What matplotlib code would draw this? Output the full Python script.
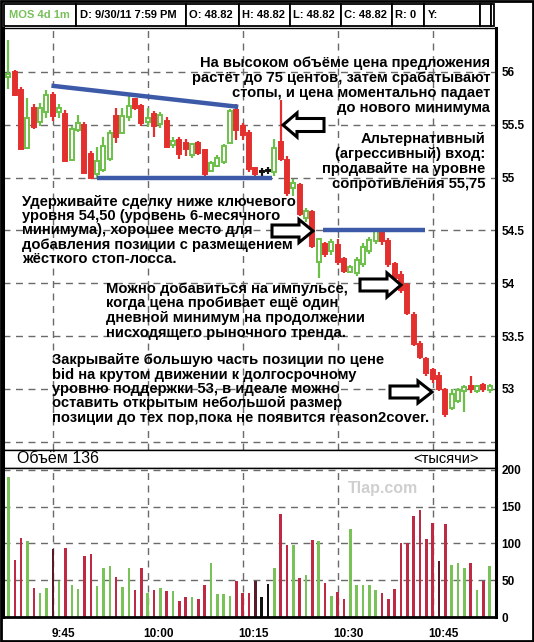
import numpy as np
import matplotlib.pyplot as plt
from matplotlib.patches import Rectangle, Polygon
import matplotlib.transforms as mtrans

plt.rcParams['font.family'] = ['Liberation Sans', 'DejaVu Sans']

# ---- data ----
start_time = "9:38"
opens = [55.95, 56.00, 55.83, 55.28, 55.66, 55.53, 55.62, 55.78, 55.62, 55.60,
         55.17, 55.45, 55.50, 55.22, 55.03, 55.07, 55.18, 55.58, 55.42, 55.57,
         55.74, 55.68, 55.53, 55.60, 55.51, 55.54, 55.31, 55.36, 55.33, 55.21,
         55.33, 55.26, 55.06, 55.11, 55.15, 55.33, 55.64, 55.49, 55.42, 55.09,
         55.05, 55.06, 55.05, 55.34, 55.17, 54.90, 54.93, 54.62, 54.67, 54.20,
         54.37, 54.31, 54.36, 54.23, 54.11, 54.10, 54.18, 54.31, 54.40, 54.49,
         54.40, 54.18, 54.08, 53.98, 53.70, 53.43, 53.28, 53.18, 53.12, 52.99,
         52.82, 52.89, 52.98, 53.03, 52.98, 53.04, 52.99]
highs = [56.30, 56.02, 55.86, 55.75, 55.70, 55.71, 55.83, 55.81, 55.70, 55.64,
         55.49, 55.59, 55.53, 55.25, 55.29, 55.38, 55.45, 55.66, 55.66, 55.77,
         55.75, 55.70, 55.66, 55.63, 55.62, 55.57, 55.38, 55.38, 55.37, 55.33,
         55.35, 55.27, 55.16, 55.21, 55.32, 55.65, 55.70, 55.52, 55.45, 55.10,
         55.09, 55.10, 55.37, 55.73, 55.20, 54.99, 54.95, 54.71, 54.69, 54.43,
         54.39, 54.42, 54.42, 54.25, 54.17, 54.25, 54.38, 54.44, 54.52, 54.51,
         54.43, 54.20, 54.12, 54.00, 53.73, 53.45, 53.30, 53.20, 53.16, 53.01,
         53.00, 53.01, 53.04, 53.12, 53.04, 53.06, 53.05]
lows = [55.84, 55.77, 55.26, 55.27, 55.46, 55.49, 55.56, 55.54, 55.56, 55.16,
        55.16, 55.43, 55.04, 54.99, 55.00, 55.05, 55.16, 55.33, 55.42, 55.54,
        55.64, 55.49, 55.48, 55.38, 55.47, 55.28, 55.28, 55.18, 55.20, 55.19,
        55.21, 55.02, 55.05, 55.10, 55.13, 55.33, 55.36, 55.36, 55.05, 55.00,
        55.02, 55.03, 55.02, 55.16, 54.83, 54.83, 54.64, 54.58, 54.33, 54.05,
        54.25, 54.27, 54.17, 54.10, 54.10, 54.07, 54.15, 54.28, 54.37, 54.36,
        54.15, 54.02, 53.91, 53.70, 53.41, 53.28, 53.12, 53.06, 52.98, 52.73,
        52.80, 52.87, 52.78, 52.96, 52.96, 52.97, 52.96]
closes = [55.98, 55.78, 55.27, 55.56, 55.48, 55.66, 55.78, 55.58, 55.66, 55.16,
          55.46, 55.52, 55.04, 55.00, 55.16, 55.30, 55.42, 55.38, 55.58, 55.68,
          55.66, 55.52, 55.56, 55.49, 55.59, 55.29, 55.35, 55.22, 55.27, 55.32,
          55.23, 55.03, 55.14, 55.19, 55.30, 55.63, 55.45, 55.40, 55.08, 55.03,
          55.05, 55.06, 55.28, 55.18, 54.85, 54.95, 54.66, 54.68, 54.35, 54.42,
          54.28, 54.39, 54.20, 54.12, 54.15, 54.22, 54.34, 54.41, 54.50, 54.40,
          54.18, 54.05, 53.94, 53.72, 53.43, 53.30, 53.15, 53.09, 53.00, 52.76,
          52.95, 52.99, 53.02, 53.00, 53.03, 53.00, 53.03]
volume = [190, 77, 107, 103, 40, 32, 40, 92, 49, 94,
          44, 38, 83, 86, 42, 66, 69, 55, 41, 67,
          37, 67, 32, 37, 39, 35, 35, 22, 27, 27,
          25, 43, 73, 31, 31, 29, 49, 33, 33, 49,
          27, 45, 67, 140, 98, 98, 53, 57, 105, 103,
          46, 28, 34, 25, 120, 43, 43, 43, 37, 33,
          25, 38, 101, 101, 138, 146, 106, 128, 76, 127,
          71, 73, 67, 73, 37, 49, 70]
vol_kind = list("grrgrggdgr" "ggrrgggrgg" "rrgrgrgrrg" "rrggggrrrd"
                "kkgrrgrgrg" "rgrrgggggr" "rrrrrrrrdr" "gggrgrg")
time_ticks = ["9:45", "10:00", "10:15", "10:30", "10:45"]
price_ticks = [53, 53.5, 54, 54.5, 55, 55.5, 56]
vol_ticks = [0, 50, 100, 150, 200]
# trend lines (bar index, price)
upper_line = ([6.8, 36.3], [55.87, 55.67])
support_line = ([14.0, 41.6], [55.0, 55.0])
resist_line = ([49.7, 65.8], [54.5, 54.5])

header = ["D: 9/30/11 7:59 PM", "O: 48.82", "H: 48.82", "L: 48.82", "C: 48.82", "R: 0", "Y:"]

t1 = ["На высоком объёме цена предложения",
      "растёт до 75 центов, затем срабатывают",
      "стопы, и цена моментально падает",
      "до нового минимума"]
t2 = ["Альтернативный", "(агрессивный) вход:", "продавайте на уровне", "сопротивления 55,75"]
t3 = ["Удерживайте сделку ниже ключевого",
      "уровня 54,50 (уровень 6-месячного",
      "минимума), хорошее место для",
      "добавления позиции с размещением",
      "жёсткого стоп-лосса."]
t4 = ["Можно добавиться на импульсе,",
      "когда цена пробивает ещё один",
      "дневной минимум на продолжении",
      "нисходящего рыночного тренда."]
t5 = ["Закрывайте большую часть позиции по цене",
      "bid на крутом движении к долгосрочному",
      "уровню поддержки 53, в идеале можно",
      "оставить открытым небольшой размер",
      "позиции до тех пор,пока не появится reason2cover."]

# ---- layout ----
W, H = 534, 642
fig = plt.figure(figsize=(W / 100, H / 100), dpi=100)


def px_axes(x0, y0, x1, y1, **kw):
    return fig.add_axes([x0 / W, 1 - y1 / H, (x1 - x0) / W, (y1 - y0) / H], **kw)


def to_min(s):
    h, m = s.split(":")
    return int(h) * 60 + int(m)


t0 = to_min(start_time)
tick_pos = [to_min(s) - t0 for s in time_ticks]
n = len(opens)
xs = np.arange(n)
GREEN = '#6cc04a'
RED = '#e2302f'
VCOL = {'g': '#79c257', 'r': '#be2a44', 'd': '#5a1a28', 'k': '#111111'}
GRID = dict(color='#6a6a6a', lw=1.0, ls=(0, (5, 4)))
xlim = (-0.85, 77.0)

ax = px_axes(3, 28, 496, 449.5)
ax.set_xlim(*xlim)
ax.set_ylim(52.427, 56.416)
for p in np.arange(52.5, 56.01, 0.5):
    ax.axhline(p, zorder=0, **GRID)
for t in tick_pos:
    ax.axvline(t, zorder=0, **GRID)

for i in range(n):
    o, h, l, c = opens[i], highs[i], lows[i], closes[i]
    if c > o:
        col, fc = GREEN, 'white'
    elif c < o:
        col, fc = RED, RED
    else:
        col, fc = '#111111', '#111111'
    ax.vlines(xs[i], l, h, color=col, lw=1.6, zorder=2)
    body = max(abs(c - o), 0.012)
    ax.add_patch(Rectangle((xs[i] - 0.31, min(o, c)), 0.62, body,
                           fc=fc, ec=col, lw=1.4, zorder=3))

for xl, yl in (upper_line, support_line, resist_line):
    ax.plot(xl, yl, color='#3c5aa8', lw=3.2, solid_capstyle='butt', zorder=4)

ax.yaxis.tick_right()
ax.set_yticks(price_ticks)
ax.set_yticklabels([f"{p:g}" for p in price_ticks], fontsize=8.5, fontweight='bold')
ax.tick_params(axis='y', length=0, pad=4)
ax.set_xticks([])
for s in ax.spines.values():
    s.set_linewidth(1.0)
ax.spines['right'].set_linewidth(2.2)
ax.spines['left'].set_linewidth(2.2)

# volume caption band
band = px_axes(3, 449.5, 496, 468)
band.set_xticks([]); band.set_yticks([])
for s in band.spines.values():
    s.set_linewidth(1.0)
band.spines['right'].set_linewidth(2.2)
band.spines['left'].set_linewidth(2.2)
band.text(14 / 493, 0.5, "Объём 136", fontsize=11.5, va='center', ha='left',
          transform=band.transAxes)
band.text(476 / 493, 0.5, "<тысячи>", fontsize=10.5, va='center', ha='right',
          transform=band.transAxes)

# volume panel
vx = px_axes(3, 468, 496, 617)
vx.set_xlim(*xlim)
vx.set_ylim(0, 202.7)
for v in vol_ticks[1:]:
    vx.axhline(v, zorder=0, **GRID)
for t in tick_pos:
    vx.axvline(t, zorder=0, **GRID)
vx.bar(xs, volume, width=0.38, color=[VCOL[k] for k in vol_kind], zorder=2)
vx.yaxis.tick_right()
vx.set_yticks(vol_ticks)
vx.set_yticklabels([str(v) for v in vol_ticks], fontsize=8.5, fontweight='bold')
vx.set_xticks(tick_pos)
vx.set_xticklabels(time_ticks, fontsize=8.5, fontweight='bold')
vx.tick_params(length=0)
vx.tick_params(axis='y', pad=4)
vx.tick_params(axis='x', pad=8)
shift = mtrans.ScaledTranslation(11 / 100, 0, fig.dpi_scale_trans)
for lab in vx.get_xticklabels():
    lab.set_transform(lab.get_transform() + shift)
for s in vx.spines.values():
    s.set_linewidth(1.0)
vx.spines['right'].set_linewidth(2.2)
vx.spines['left'].set_linewidth(2.2)
vx.spines['bottom'].set_linewidth(2.0)

# overlay in pixel coordinates for header, text and arrows
ov = px_axes(0, 0, W, H, zorder=10)
ov.set_xlim(0, W)
ov.set_ylim(H, 0)
ov.axis('off')
ov.patch.set_alpha(0)

# header boxes
edges = [4, 76, 185.5, 238.5, 289.5, 340.5, 391.5, 424, 480, 490.5, 494]
for a, b in zip(edges[:-1], edges[1:]):
    ov.add_patch(Rectangle((a, 4), b - a, 21.5, fc='white', ec='black', lw=1.3))
ov.text(9, 15, "MOS 4d 1m", color='#78c05a', fontsize=8, fontweight='bold', va='center')
for a, s in zip(edges[1:], header):
    ov.text(a + 3.5, 15, s, fontsize=8, fontweight='bold', va='center')

ov.text(383, 489, "Tlap.com", color='#cfcfcf', fontsize=11.5, fontweight='bold',
        ha='center', va='center')


def block_arrow(tip_x, tip_y, tail_x, head_h=23, shaft_h=12, head_l=14):
    d = np.sign(tail_x - tip_x)
    b = tip_x + d * head_l
    pts = [(tip_x, tip_y), (b, tip_y - head_h / 2), (b, tip_y - shaft_h / 2),
           (tail_x, tip_y - shaft_h / 2), (tail_x, tip_y + shaft_h / 2),
           (b, tip_y + shaft_h / 2), (b, tip_y + head_h / 2)]
    ov.add_patch(Polygon(pts, closed=True, fc='white', ec='black', lw=2.2, joinstyle='miter'))


block_arrow(283, 125, 324, head_h=24, shaft_h=13)
block_arrow(313, 231, 272)
block_arrow(401, 285, 360, head_h=24)
block_arrow(432, 392, 390, head_h=22)


def text_block(lines, x, y0, pitch, ha):
    for k, s in enumerate(lines):
        ov.text(x, y0 + k * pitch, s, fontsize=10.6, fontweight='bold',
                ha=ha, va='center')


text_block(t1, 490, 63.5, 14.9, 'right')
text_block(t2, 485, 139, 15.0, 'right')
text_block(t3, 22, 202, 14.2, 'left')
text_block(t4, 106, 288.5, 14.7, 'left')
text_block(t5, 52, 360, 14.5, 'left')

# outer frame
ov.add_patch(Rectangle((1, 1), W - 2, H - 2, fc='none', ec='black', lw=2))

fig.savefig("out.png", dpi=100)
